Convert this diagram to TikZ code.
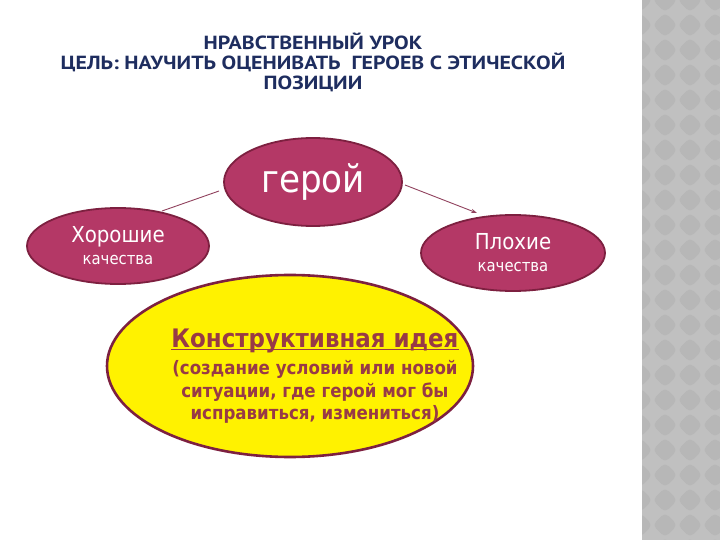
\documentclass[tikz,border=0pt]{standalone}
\usepackage{fontspec}
\setmainfont{DejaVu Sans Condensed}
\newfontfamily\titlefont[FakeStretch=1.15]{PT Sans}
\usetikzlibrary{shapes.geometric,arrows.meta}
\definecolor{maroonfill}{RGB}{180,56,102}
\definecolor{maroonline}{RGB}{125,32,64}
\definecolor{ideacol}{RGB}{152,58,70}
\definecolor{titleblue}{RGB}{30,45,95}
\definecolor{stripgray}{RGB}{192,192,192}
\definecolor{diamgray}{RGB}{183,183,183}
\newlength{\ulwd}
\newcommand{\myul}[1]{\settowidth{\ulwd}{#1}\leavevmode\rlap{\rule[-3pt]{\ulwd}{1.3pt}}#1}
\tikzset{
  bubble/.style={ellipse, fill=maroonfill, draw=maroonline, line width=1.8pt, text=white, align=center, inner sep=0pt},
  link/.style={draw=maroonline!85, line width=0.9pt},
  idealine/.style={text=ideacol, anchor=base, font=\bfseries\fontsize{18.5}{22}\selectfont},
}
\begin{document}
\begin{tikzpicture}[x=1pt,y=-1pt]
\useasboundingbox (0,0) rectangle (720,540);
\fill[white] (0,0) rectangle (720,540);
% gray strip
\fill[stripgray] (642,0) rectangle (720,540);
\begin{scope}
\clip (642,0) rectangle (720,540);
\foreach \i in {0,...,4}{
  \foreach \j in {0,...,22}{
    \fill[diamgray, rounded corners=5pt] ({640+\i*25},{\j*25-12.5}) -- ++(12.5,12.5) -- ++(-12.5,12.5) -- ++(-12.5,-12.5) -- cycle;
  }
}
\end{scope}
% title
\node[align=center, font=\titlefont\bfseries\fontsize{19}{20}\selectfont, text=titleblue] (title) at (313,62)
{НРАВСТВЕННЫЙ УРОК\\ЦЕЛЬ: НАУЧИТЬ ОЦЕНИВАТЬ \ ГЕРОЕВ С ЭТИЧЕСКОЙ\\ПОЗИЦИИ};
% nodes
\node[bubble, minimum width=178pt, minimum height=88pt, font=\fontsize{38}{40}\selectfont] (hero) at (313,182) {герой};
\node[bubble, minimum width=182pt, minimum height=76pt, font=\fontsize{16.5}{22}\selectfont] (good) at (118,246)
{{\fontsize{22}{22}\selectfont Хорошие}\\качества};
\node[bubble, minimum width=184pt, minimum height=76pt, font=\fontsize{16.5}{22}\selectfont] (bad) at (513,253)
{{\fontsize{22}{22}\selectfont Плохие}\\качества};
\node[ellipse, fill=yellow, draw=maroonline, line width=2.6pt, minimum width=366pt, minimum height=182pt, inner sep=0pt] (idea) at (290,366) {};
\node[idealine, font=\bfseries\fontsize{25.5}{28}\selectfont] (ideahead) at (315,347) {\myul{Конструктивная идея}};
\node[idealine] (idea1) at (315,374) {(создание условий или новой};
\node[idealine] (idea2) at (315,397) {ситуации, где герой мог бы};
\node[idealine] (idea3) at (315,419.5) {исправиться, измениться)};
% connectors
\coordinate (l1) at (219,191);
\coordinate (l2) at (162,211);
\coordinate (r1) at (405,185);
\coordinate (r2) at (477,213);
\draw[link] (l1) -- (l2);
\draw[link, -{Stealth[length=6pt,width=4pt]}] (r1) -- (r2);
\end{tikzpicture}
\end{document}
